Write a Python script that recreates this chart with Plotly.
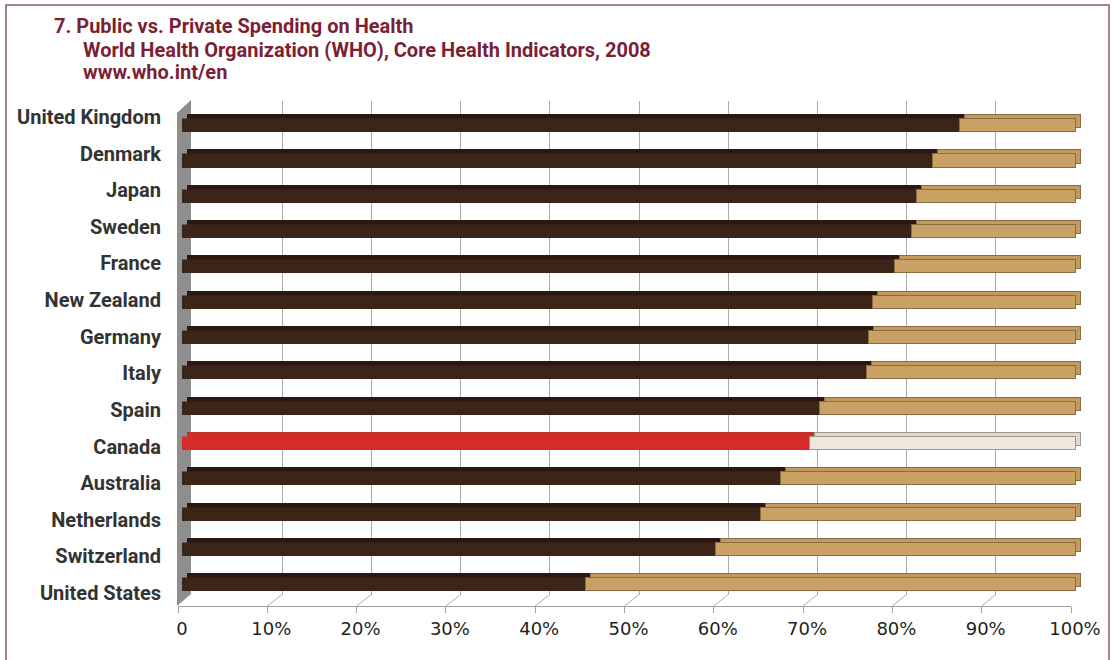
import plotly.graph_objects as go

# Share of total health expenditure, 2008 (percent)
countries = ["United Kingdom", "Denmark", "Japan", "Sweden", "France", "New Zealand",
             "Germany", "Italy", "Spain", "Canada", "Australia", "Netherlands",
             "Switzerland", "United States"]
public_share = [87.0, 84.0, 82.2, 81.6, 79.8, 77.3, 76.8, 76.6, 71.4, 70.2, 67.0, 64.8, 59.7, 45.2]
private_share = [13.0, 16.0, 17.8, 18.4, 20.2, 22.7, 23.2, 23.4, 28.6, 29.8, 33.0, 35.2, 40.3, 54.8]
tick_values = [0, 10, 20, 30, 40, 50, 60, 70, 80, 90, 100]
tick_labels = ["0", "10%", "20%", "30%", "40%", "50%", "60%", "70%", "80%", "90%", "100%"]
highlight = "Canada"

W, H = 1113, 660


def fx(px):
    return px / W


def fy(py):
    return 1 - py / H


n = len(countries)
cat_range = [n - 0.5, -0.5]

# colours
DARK, DARK_TOP = "#3b2519", "#2a1911"
TAN, TAN_TOP, TAN_EDGE = "#c9a164", "#c29a5e", "#8c6c42"
RED, RED_TOP = "#d62b28", "#c8302a"
CREAM, CREAM_TOP, CREAM_EDGE = "#efe6dc", "#e2d9ce", "#9e9892"

pub_front = [RED if c == highlight else DARK for c in countries]
pub_back = [RED_TOP if c == highlight else DARK_TOP for c in countries]
prv_front = [CREAM if c == highlight else TAN for c in countries]
prv_back = [CREAM_TOP if c == highlight else TAN_TOP for c in countries]
prv_edge = [CREAM_EDGE if c == highlight else TAN_EDGE for c in countries]

fig = go.Figure()

# subplot 1: back-wall gridlines
fig.add_trace(go.Scatter(x=[], y=[], xaxis="x", yaxis="y", showlegend=False, hoverinfo="skip"))

# subplot 2: depth faces of the bars (shifted up/right)
BAR_W = 0.37
fig.add_trace(go.Bar(y=countries, x=public_share, orientation="h", xaxis="x2", yaxis="y2",
                     width=BAR_W, marker=dict(color=pub_back, line=dict(color=pub_back, width=1)),
                     showlegend=False, hoverinfo="skip"))
fig.add_trace(go.Bar(y=countries, x=private_share, orientation="h", xaxis="x2", yaxis="y2",
                     width=BAR_W, marker=dict(color=prv_back, line=dict(color=prv_edge, width=1)),
                     showlegend=False, hoverinfo="skip"))

# subplot 3: front faces
fig.add_trace(go.Bar(y=countries, x=public_share, orientation="h", xaxis="x3", yaxis="y3",
                     width=BAR_W, name="Public",
                     marker=dict(color=pub_front, line=dict(color=pub_front, width=0.5)),
                     showlegend=False))
fig.add_trace(go.Bar(y=countries, x=private_share, orientation="h", xaxis="x3", yaxis="y3",
                     width=BAR_W, name="Private",
                     marker=dict(color=prv_front, line=dict(color=prv_edge, width=1)),
                     showlegend=False))

# subplot 4: floor front edge with percentage axis
fig.add_trace(go.Scatter(x=[], y=[], xaxis="x4", yaxis="y4", showlegend=False, hoverinfo="skip"))

# subplot 5: category labels
fig.add_trace(go.Scatter(x=[], y=[], xaxis="x5", yaxis="y5", showlegend=False, hoverinfo="skip"))

hidden = dict(visible=False, showgrid=False, zeroline=False, fixedrange=True, automargin=False)

fig.update_layout(
    width=W, height=H, autosize=False,
    margin=dict(l=0, r=0, t=0, b=0, pad=0, autoexpand=False),
    paper_bgcolor="white", plot_bgcolor="rgba(0,0,0,0)",
    barmode="stack", bargap=0, showlegend=False,
    xaxis=dict(domain=[fx(193), fx(1085)], range=[0, 100], anchor="y",
               tickvals=tick_values[1:-1], showgrid=True, gridcolor="#ababab", gridwidth=1,
               showticklabels=False, ticks="", showline=False, zeroline=False,
               automargin=False),
    yaxis=dict(domain=[fy(595), fy(101)], range=[0, 1], anchor="x", **hidden),
    xaxis2=dict(domain=[fx(187), fx(1081)], range=[0, 100], anchor="y2", **hidden),
    yaxis2=dict(domain=[fy(598.5), fy(104)], range=cat_range, anchor="x2", type="category",
                categoryarray=countries, **hidden),
    xaxis3=dict(domain=[fx(182), fx(1076)], range=[0, 100], anchor="y3", **hidden),
    yaxis3=dict(domain=[fy(602.5), fy(108)], range=cat_range, anchor="x3", type="category",
                categoryarray=countries, **hidden),
    xaxis4=dict(domain=[fx(178), fx(1071)], range=[0, 100], anchor="y4",
                tickvals=tick_values, ticktext=tick_labels, ticks="outside", ticklen=6,
                tickcolor="#a0a0a0", showline=True, linecolor="#a0a0a0", linewidth=1,
                showgrid=False, zeroline=False, ticklabelshift=4, automargin=False,
                tickfont=dict(family="DejaVu Sans", size=18, color="#231f20")),
    yaxis4=dict(domain=[fy(606), fy(560)], range=[0, 1], anchor="x4", **hidden),
    xaxis5=dict(domain=[fx(162), fx(166)], range=[0, 1], anchor="y5", **hidden),
    yaxis5=dict(domain=[fy(611.3), fy(98.7)], range=cat_range, anchor="x5",
                tickvals=list(range(n)), ticktext=countries, ticks="", showline=False,
                showgrid=False, zeroline=False, automargin=False,
                tickfont=dict(family="Roboto", size=20, color="#333333", weight="bold")),
)

shapes = []
# left wall
shapes.append(dict(type="path", xref="paper", yref="paper", layer="below",
                   path=f"M {fx(177)},{fy(113)} L {fx(191)},{fy(100)} L {fx(191)},{fy(594)} "
                        f"L {fx(177)},{fy(606)} Z",
                   fillcolor="#8e8e8e", line=dict(width=0)))
# floor lines joining front ticks to back gridlines
for v in tick_values[1:-1]:
    x0 = 178 + v * (1071 - 178) / 100
    x1 = 193 + v * (1085 - 193) / 100
    shapes.append(dict(type="line", xref="paper", yref="paper", layer="below",
                       x0=fx(x0), y0=fy(606), x1=fx(x1), y1=fy(594.5),
                       line=dict(color="#ababab", width=1)))
# frame
shapes.append(dict(type="rect", xref="paper", yref="paper", layer="above",
                   x0=fx(6), y0=fy(668), x1=fx(1109), y1=fy(5),
                   line=dict(color="#84587a", width=1.5), fillcolor="rgba(0,0,0,0)"))
fig.update_layout(shapes=shapes)

TITLE_COLOR = "#7b1f35"
title_font = dict(family="Roboto", size=20, color=TITLE_COLOR, weight="bold")
title_lines = [
    (52, 26, "7. Public vs. Private Spending on Health"),
    (81, 50, "World Health Organization (WHO), Core Health Indicators, 2008"),
    (81, 72, "www.who.int/en"),
]
for x, y, t in title_lines:
    fig.add_annotation(text=t, xref="paper", yref="paper", x=fx(x), y=fy(y),
                       xanchor="left", yanchor="middle", showarrow=False, font=title_font)

fig.write_html("out.html")
